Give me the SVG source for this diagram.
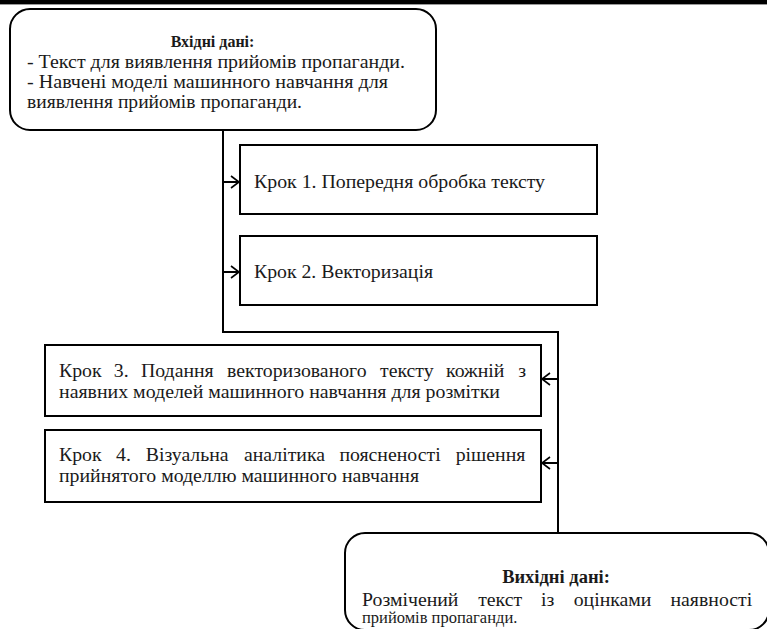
<svg xmlns="http://www.w3.org/2000/svg" width="767" height="629" viewBox="0 0 767 629">
<style>
text{font-family:"Liberation Serif","Times New Roman",serif;font-size:19.8px;fill:#1a1a1a}
.b{font-weight:bold}
.box{fill:#fff;stroke:#000;stroke-width:2}
.ln{fill:none;stroke:#000;stroke-width:2}
.ar{fill:none;stroke:#000;stroke-width:1.6}
</style>
<rect x="0" y="0" width="767" height="4" fill="#000"/>
<line x1="0" y1="4.5" x2="767" y2="4.5" stroke="#999" stroke-width="1"/>
<g id="connectors">
<polyline class="ln" points="223,130 223,332 558,332 558,533"/>
<line class="ln" x1="223" y1="182" x2="239" y2="182"/>
<polyline class="ar" points="231,176 239,182 231,188"/>
<line class="ln" x1="223" y1="272" x2="239" y2="272"/>
<polyline class="ar" points="231,266 239,272 231,278"/>
<line class="ln" x1="558" y1="379" x2="542" y2="379"/>
<polyline class="ar" points="550,373 542,379 550,385"/>
<line class="ln" x1="558" y1="463" x2="542" y2="463"/>
<polyline class="ar" points="550,457 542,463 550,469"/>
</g>
<g id="input">
<rect class="box" x="10" y="9" width="426" height="121" rx="20"/>
<text class="b" x="212.5" y="47" text-anchor="middle" style="font-size:16px">Вхідні дані:</text>
<text x="27" y="68" textLength="378" lengthAdjust="spacingAndGlyphs">- Текст для виявлення прийомів пропаганди.</text>
<text x="27" y="88" textLength="361" lengthAdjust="spacingAndGlyphs">- Навчені моделі машинного навчання для</text>
<text x="27" y="108" textLength="275" lengthAdjust="spacingAndGlyphs">виявлення прийомів пропаганди.</text>
</g>
<g id="step1">
<rect class="box" x="240" y="145" width="357" height="69"/>
<text x="254" y="188" textLength="291" lengthAdjust="spacingAndGlyphs">Крок 1. Попередня обробка тексту</text>
</g>
<g id="step2">
<rect class="box" x="240" y="236" width="357" height="69"/>
<text x="254" y="278" textLength="179" lengthAdjust="spacingAndGlyphs">Крок 2. Векторизація</text>
</g>
<g id="step3">
<rect class="box" x="45" y="345" width="496" height="71"/>
<text y="377"><tspan x="59">Крок</tspan><tspan x="113.8">3.</tspan><tspan x="141">Подання</tspan><tspan x="227.1">векторизованого</tspan><tspan x="380">тексту</tspan><tspan x="446.1">кожній</tspan><tspan x="518.2">з</tspan></text>
<text x="59" y="398" textLength="441" lengthAdjust="spacingAndGlyphs">наявних моделей машинного навчання для розмітки</text>
</g>
<g id="step4">
<rect class="box" x="45" y="430" width="496" height="72"/>
<text y="461"><tspan x="59">Крок</tspan><tspan x="116.1">4.</tspan><tspan x="145.7">Візуальна</tspan><tspan x="244">аналітика</tspan><tspan x="339.4">поясненості</tspan><tspan x="455.7">рішення</tspan></text>
<text x="59" y="482" textLength="360" lengthAdjust="spacingAndGlyphs">прийнятого моделлю машинного навчання</text>
</g>
<g id="output">
<rect class="box" x="345" y="533" width="424" height="97" rx="20"/>
<text class="b" x="556" y="583" text-anchor="middle" style="font-size:18.5px">Вихідні дані:</text>
<text y="606"><tspan x="362">Розмічений</tspan><tspan x="478.2">текст</tspan><tspan x="541.1">із</tspan><tspan x="573.7">оцінками</tspan><tspan x="670.5">наявності</tspan></text>
<text x="362" y="623" style="font-size:16.5px">прийомів пропаганди.</text>
</g>
</svg>
